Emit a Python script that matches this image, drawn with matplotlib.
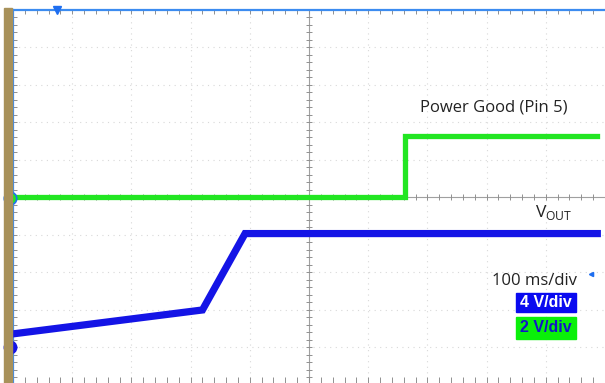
import matplotlib.pyplot as plt
import numpy as np

# scope settings
ms_per_div = 100
ch1_v_per_div = 4
ch2_v_per_div = 2
t_left = -75          # ms at left edge of screen
ch1_ref = -4.0        # ground marker position, divisions
ch2_ref = 0.0

# VOUT (channel 1) trace
vout_t = [-75, 245, 317, 912]
vout_v = [1.4, 3.95, 12.1, 12.1]

# Power Good (channel 2) trace
pg_t = [-75, 588, 588, 912]
pg_v = [0.0, 0.0, 3.25, 3.25]

def tdiv(t):
    return (np.array(t) - t_left) / ms_per_div

W, H = 605, 383
fig = plt.figure(figsize=(W / 100, H / 100), dpi=100)
ax = fig.add_axes([13 / W, -1.5 / H, 592 / W, 375 / H])
ax.set_xlim(0, 592 / 60)
ax.set_ylim(-5, 5)

def px(x, y):
    # screen pixel -> division coords
    return (x - 13) / 60, (197 - y) / 37.5

# brown strip on the left
fig.patches.append(plt.Rectangle((4 / W, 0), 8 / W, 375 / H, transform=fig.transFigure,
                                 color='#A8915A', zorder=0))

for s in ['right', 'bottom']:
    ax.spines[s].set_visible(False)
for s in ['top', 'left']:
    ax.spines[s].set_color('#3C8CF0')
    ax.spines[s].set_linewidth(1.6)

# graticule
for gx in range(1, 10):
    if gx != 5:
        ax.axvline(gx, color='#D8D8D8', lw=0.8, ls=(0, (1, 4)), zorder=1)
for gy in range(-4, 5):
    if gy != 0:
        ax.axhline(gy, color='#D8D8D8', lw=0.8, ls=(0, (1, 4)), zorder=1)
ax.axvline(5, color='#A0A0A0', lw=0.8, zorder=1)
ax.axhline(0, color='#A0A0A0', lw=0.8, zorder=1)

minor_x = np.arange(0, 10.01, 0.2)
minor_y = np.arange(-5, 5.01, 0.2)
ax.plot(minor_x, np.zeros_like(minor_x), ls='none', marker='|', ms=4, mew=0.7, color='#909090', zorder=1)
ax.plot(np.full_like(minor_y, 5), minor_y, ls='none', marker='_', ms=4, mew=0.7, color='#909090', zorder=1)
ax.plot(minor_x, np.full_like(minor_x, -4.88), ls='none', marker='|', ms=4, mew=0.7, color='#909090', zorder=1)

ax.set_xticks(minor_x)
ax.set_yticks(minor_y)
ax.tick_params(axis='x', which='both', top=True, bottom=False, labeltop=False, labelbottom=False,
               direction='in', length=3, width=0.7, color='#909090')
ax.tick_params(axis='y', which='both', left=True, right=False, labelleft=False,
               direction='in', length=3, width=0.7, color='#909090')

# traces
pg_div = np.array(pg_v) / ch2_v_per_div + ch2_ref
vout_div = np.array(vout_v) / ch1_v_per_div + ch1_ref
ax.plot(tdiv(pg_t), pg_div, color='#22E622', lw=3.8, solid_joinstyle='miter', zorder=3)
ax.plot(tdiv(pg_t), pg_div, color='#22E622', lw=1.0, zorder=3)
ax.plot(tdiv(vout_t), vout_div, color='#1414E6', lw=5.2, solid_joinstyle='miter', zorder=4)

# markers
ax.plot([tdiv(0)], [5], marker='v', ms=6, color='#1E6EF0', clip_on=False, zorder=6)
ax.plot([-0.05], [ch2_ref - 0.03], marker='o', ms=9, mfc='#22E622', mec='#1E6EF0', mew=1.2,
        clip_on=False, zorder=6)
ax.text(-0.05, ch2_ref - 0.03, '2', color='#1E6EF0', fontsize=5, ha='center', va='center', zorder=7)
ax.plot([-0.05], [ch1_ref], marker='o', ms=9, color='#1414E6', clip_on=False, zorder=6)
ax.plot([0.02], [ch1_ref], marker='>', ms=3.5, color='#1414E6', clip_on=False, zorder=6)
ax.text(-0.05, ch1_ref, '1', color='white', fontsize=5, ha='center', va='center', zorder=7)
ax.plot(*px(599, 274), marker='<', ms=3, color='#1E6EF0', zorder=6)

# labels
font = 'Open Sans'
ax.text(*px(426, 107), 'Power Good (Pin 5)', fontsize=12, family=font,
        color='#222222', ha='left', va='center')
ax.text(*px(542, 212), r'V$_{\mathregular{OUT}}$', fontsize=12.5, family=font,
        color='#222222', ha='left', va='center')
ax.text(*px(584, 281), '100 ms/div', fontsize=12, family=font,
        color='#222222', ha='right', va='center')

for (y0, y1, label, fc, tc) in [(293, 312, '4 V/div', '#0A0AF0', 'white'),
                                (317, 339, '2 V/div', '#0AF00A', '#1414C8')]:
    x0, yb = px(523, y1)
    x1, yt = px(584, y0)
    ax.add_patch(plt.Rectangle((x0, yb), x1 - x0, yt - yb, color=fc, zorder=5))
    ax.text((x0 + x1) / 2, (yb + yt) / 2, label, fontsize=11.5, family='Liberation Sans', weight='bold',
            color=tc, ha='center', va='center', zorder=6)

plt.savefig('out.png', dpi=100)
